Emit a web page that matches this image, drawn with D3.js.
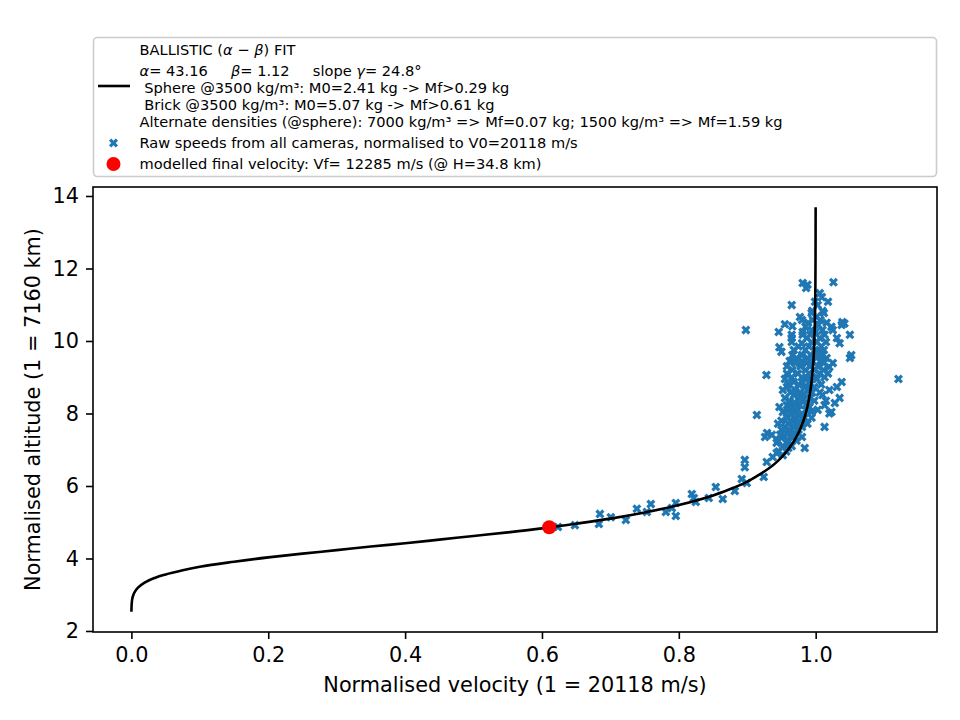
<!DOCTYPE html>
<html><head><meta charset="utf-8">
<script src="https://cdn.jsdelivr.net/npm/d3@7"></script>
<style>
body{margin:0;background:#fff}
text{font-family:"DejaVu Sans",sans-serif;white-space:pre}
</style>
</head><body>
<svg id="c" width="960" height="720"></svg>
<script>
// ---------------- data ----------------
const xTicks = [0.0, 0.2, 0.4, 0.6, 0.8, 1.0];
const yTicks = [2, 4, 6, 8, 10, 12, 14];
const xLabel = "Normalised velocity (1 = 20118 m/s)";
const yLabel = "Normalised altitude (1 = 7160 km)";

// fitted ballistic curve (normalised velocity, normalised altitude)
const fitV = [0.00006,0.0001,0.0003,0.001,0.003,0.005,0.01,0.02,0.035,0.05,0.075,0.1,0.15,0.2,0.25,0.3,0.35,0.4,0.45,0.5,0.55,0.6,0.65,0.7,0.75,0.8,0.85,0.88,0.9,0.92,0.94,0.95,0.96,0.97,0.98,0.985,0.99,0.995,0.998,0.999,0.9995,0.9998,0.9999,0.99995];
const fitH = [2.53,2.585,2.70,2.85,3.00,3.08,3.20,3.34,3.47,3.56,3.675,3.77,3.91,4.03,4.135,4.23,4.33,4.42,4.52,4.62,4.72,4.83,4.96,5.10,5.27,5.475,5.74,5.95,6.12,6.34,6.61,6.79,7.01,7.29,7.69,7.97,8.38,9.07,9.98,10.67,11.37,12.28,12.98,13.69];

// raw camera speeds [v, h]
const rawPoints = [
[0.6234,4.87],[0.6482,4.92],[0.6847,5.23],[0.6832,4.95],[0.7007,5.14],[0.7226,5.06],[0.7387,5.37],[0.7533,5.28],[0.7591,5.50],[0.7810,5.28],[0.7898,5.39],[0.7956,5.53],[0.7956,5.17],[0.8190,5.78],[0.8219,5.67],[0.8248,5.56],[0.8438,5.67],[0.8540,5.97],[0.8642,5.64],[0.8818,5.86],[0.8920,6.19],[0.8993,6.08],[0.8964,6.72],[0.8964,6.52],[0.9241,6.25],[0.9285,6.66],[0.9372,6.80],
[0.981,11.60],[0.988,11.55],[0.986,11.46],[1.026,11.62],[1.006,11.32],[1.009,11.21],[1.018,11.08],[0.999,11.08],[0.965,10.99],[1.003,10.99],
[1.010,10.83],[0.995,10.83],[0.994,10.77],[1.012,10.77],[0.977,10.66],[1.001,10.66],[0.980,10.58],[0.996,10.58],[1.007,10.58],
[1.016,10.50],[1.039,10.52],[1.042,10.48],[0.989,10.50],[0.955,10.46],[1.038,10.44],[1.004,10.44],[1.023,10.39],[0.966,10.41],[0.985,10.39],
[0.898,10.30],[1.025,10.30],[0.994,10.30],[1.010,10.30],[0.946,10.25],[0.981,10.25],[1.000,10.25],
[0.965,10.17],[0.981,10.17],[1.050,10.17],[1.013,10.17],[0.992,10.17],[1.031,10.08],[0.965,10.08],[1.006,10.08],[0.987,10.08],
[0.965,9.97],[0.994,9.97],[1.002,9.97],[1.015,9.97],[1.035,9.94],[0.980,9.94],[0.975,9.85],[0.990,9.85],[1.008,9.85],[0.947,9.83],
[0.968,9.75],[0.985,9.75],[0.999,9.75],[1.012,9.75],[0.950,9.70],[1.004,9.70],
[0.966,9.61],[0.980,9.61],[0.993,9.61],[1.052,9.61],[1.010,9.61],[1.050,9.53],[0.972,9.53],[0.988,9.53],[1.001,9.53],[1.016,9.53],
[0.962,9.45],[0.980,9.45],[0.995,9.45],[1.007,9.45],[1.025,9.39],[0.970,9.39],[0.987,9.39],[1.012,9.39],
[0.958,9.30],[0.978,9.30],[0.992,9.30],[1.003,9.30],[1.020,9.28],[0.966,9.20],[0.985,9.20],[0.998,9.20],[1.011,9.20],
[0.958,9.10],[0.974,9.10],[0.990,9.10],[1.006,9.10],[1.018,9.10],[0.928,9.06],
[0.965,9.00],[0.980,9.00],[0.995,9.00],[1.013,9.00],[1.121,8.95],[0.955,8.95],[0.987,8.95],[1.002,8.95],
[1.038,8.87],[0.968,8.87],[0.980,8.87],[0.960,8.80],[0.975,8.80],[0.992,8.80],[1.008,8.80],
[1.031,8.73],[0.958,8.73],[0.984,8.73],[0.998,8.73],[0.952,8.65],[0.970,8.65],[1.020,8.65],[0.988,8.65],
[0.963,8.58],[0.978,8.58],[0.995,8.58],[1.006,8.58],[1.010,8.51],[0.968,8.51],[0.983,8.51],
[1.035,8.43],[0.955,8.43],[0.975,8.43],[0.992,8.43],[0.962,8.35],[0.980,8.35],[0.998,8.35],[1.015,8.35],
[1.028,8.29],[0.970,8.29],[0.988,8.29],[1.013,8.23],[0.958,8.23],[0.977,8.23],[0.947,8.18],[0.991,8.18],[0.966,8.18],
[0.960,8.10],[0.974,8.10],[0.986,8.10],[1.003,8.10],[0.952,8.04],[0.994,8.04],[1.023,8.04],[0.970,8.04],
[1.020,8.00],[0.980,8.00],[0.962,8.00],[0.914,7.96],[0.975,7.96],
[0.994,7.88],[0.958,7.88],[0.968,7.88],[0.984,7.88],[0.950,7.80],[0.965,7.80],[0.977,7.80],
[0.945,7.72],[0.960,7.72],[0.972,7.72],[0.988,7.72],[1.013,7.63],[0.955,7.63],[0.968,7.63],[0.980,7.63],
[0.950,7.55],[0.962,7.55],[0.975,7.55],[0.929,7.46],[0.958,7.46],[0.970,7.46],[0.936,7.41],[0.948,7.41],[0.965,7.41],
[0.926,7.35],[0.980,7.35],[0.955,7.35],[0.968,7.35],[0.945,7.25],[0.960,7.25],[0.972,7.25],[0.943,7.19],[0.957,7.19],
[0.952,7.10],[0.965,7.10],[0.984,7.05],[0.960,7.05],[0.946,6.95],[0.957,6.95],[0.943,6.91],[0.952,6.85]
];

const finalV = [0.6106];
const finalH = [4.86];

const legendLines = [
  [{t:"BALLISTIC ("},{t:"α",i:1},{t:" − "},{t:"β",i:1},{t:") FIT"}],
  [{t:"α",i:1},{t:"= 43.16     "},{t:"β",i:1},{t:"= 1.12     slope "},{t:"γ",i:1},{t:"= 24.8°"}],
  [{t:" Sphere @3500 kg/m³: M0=2.41 kg -> Mf>0.29 kg"}],
  [{t:" Brick @3500 kg/m³: M0=5.07 kg -> Mf>0.61 kg"}],
  [{t:"Alternate densities (@sphere): 7000 kg/m³ => Mf=0.07 kg; 1500 kg/m³ => Mf=1.59 kg"}]
];
const rawLabel = "Raw speeds from all cameras, normalised to V0=20118 m/s";
const finalLabel = "modelled final velocity: Vf= 12285 m/s (@ H=34.8 km)";

// ---------------- drawing ----------------
const svg = d3.select("#c");
const L = 93, R = 937, T = 187, B = 632;
const x = d3.scaleLinear().domain([-0.0561, 1.1773]).range([L, R]);
const y = d3.scaleLinear().domain([1.972, 14.248]).range([B, T]);
const blue = "#1f77b4";

// filled X marker (rotated filled plus)
function xMarker(size) {
  const base = [[-1,-3],[1,-3],[1,-1],[3,-1],[3,1],[1,1],[1,3],[-1,3],[-1,1],[-3,1],[-3,-1],[-1,-1]];
  const c = Math.SQRT1_2;
  const pts = base.map(([a,b]) => [(a*c - b*c)*size/6, (a*c + b*c)*size/6]);
  return "M" + pts.map(p => p[0].toFixed(2)+","+p[1].toFixed(2)).join("L") + "Z";
}
const xm = xMarker(9.6);

const plot = svg.append("g");
plot.selectAll("path.raw").data(rawPoints).join("path")
  .attr("class","raw")
  .attr("d", xm)
  .attr("transform", d => `translate(${x(d[0])},${y(d[1])})`)
  .attr("fill", blue);

const fit = fitV.map((v,i) => [v, fitH[i]]);
plot.append("path").datum(fit)
  .attr("d", d3.line().x(d => x(d[0])).y(d => y(d[1])).curve(d3.curveMonotoneX))
  .attr("fill","none").attr("stroke","#000").attr("stroke-width",2.6);

plot.selectAll("circle.fin").data(finalV).join("circle")
  .attr("cx", (d) => x(d)).attr("cy", (d,i) => y(finalH[i])).attr("r", 7)
  .attr("fill", "#ff0000");

// axes
const fs = 20.8;
const xa = svg.append("g").attr("transform",`translate(0,${B})`)
  .call(d3.axisBottom(x).tickValues(xTicks).tickFormat(d3.format(".1f")).tickSize(7).tickPadding(8).tickSizeOuter(0));
const ya = svg.append("g").attr("transform",`translate(${L},0)`)
  .call(d3.axisLeft(y).tickValues(yTicks).tickFormat(d3.format("d")).tickSize(7).tickPadding(7).tickSizeOuter(0));
[xa, ya].forEach(g => {
  g.select(".domain").remove();
  g.selectAll("line").attr("stroke","#000").attr("stroke-width",1.6);
  g.selectAll("text").attr("font-size", fs).attr("fill","#000").attr("font-family","DejaVu Sans");
});

svg.append("rect").attr("x",L).attr("y",T).attr("width",R-L).attr("height",B-T)
  .attr("fill","none").attr("stroke","#000").attr("stroke-width",1.6);

svg.append("text").attr("x",(L+R)/2).attr("y",692).attr("text-anchor","middle")
  .attr("font-size",fs).text(xLabel);
svg.append("text").attr("transform",`translate(40,${(T+B)/2}) rotate(-90)`).attr("text-anchor","middle")
  .attr("font-size",fs).text(yLabel);

// legend
const lg = svg.append("g");
lg.append("rect").attr("x",93.5).attr("y",37.5).attr("width",843).attr("height",139).attr("rx",4)
  .attr("fill","#fff").attr("fill-opacity",0.8).attr("stroke","#cccccc").attr("stroke-width",1.6);
lg.append("line").attr("x1",98).attr("x2",130).attr("y1",86).attr("y2",86)
  .attr("stroke","#000").attr("stroke-width",2.6);
const lfs = 14.6;
const lineY = [55.3, 76, 93.3, 110, 126.7];
legendLines.forEach((parts, k) => {
  const t = lg.append("text").attr("x",139.5).attr("y",lineY[k]).attr("font-size",lfs);
  parts.forEach(p => {
    const s = t.append("tspan").text(p.t);
    if (p.i) s.attr("font-style","italic");
  });
});
lg.append("path").attr("d", xm).attr("transform","translate(113.5,143)").attr("fill",blue);
lg.append("text").attr("x",139.5).attr("y",148.3).attr("font-size",lfs).text(rawLabel);
lg.append("circle").attr("cx",113.5).attr("cy",164).attr("r",7).attr("fill","#ff0000");
lg.append("text").attr("x",139.5).attr("y",168.5).attr("font-size",lfs).text(finalLabel);
</script>
</body></html>
